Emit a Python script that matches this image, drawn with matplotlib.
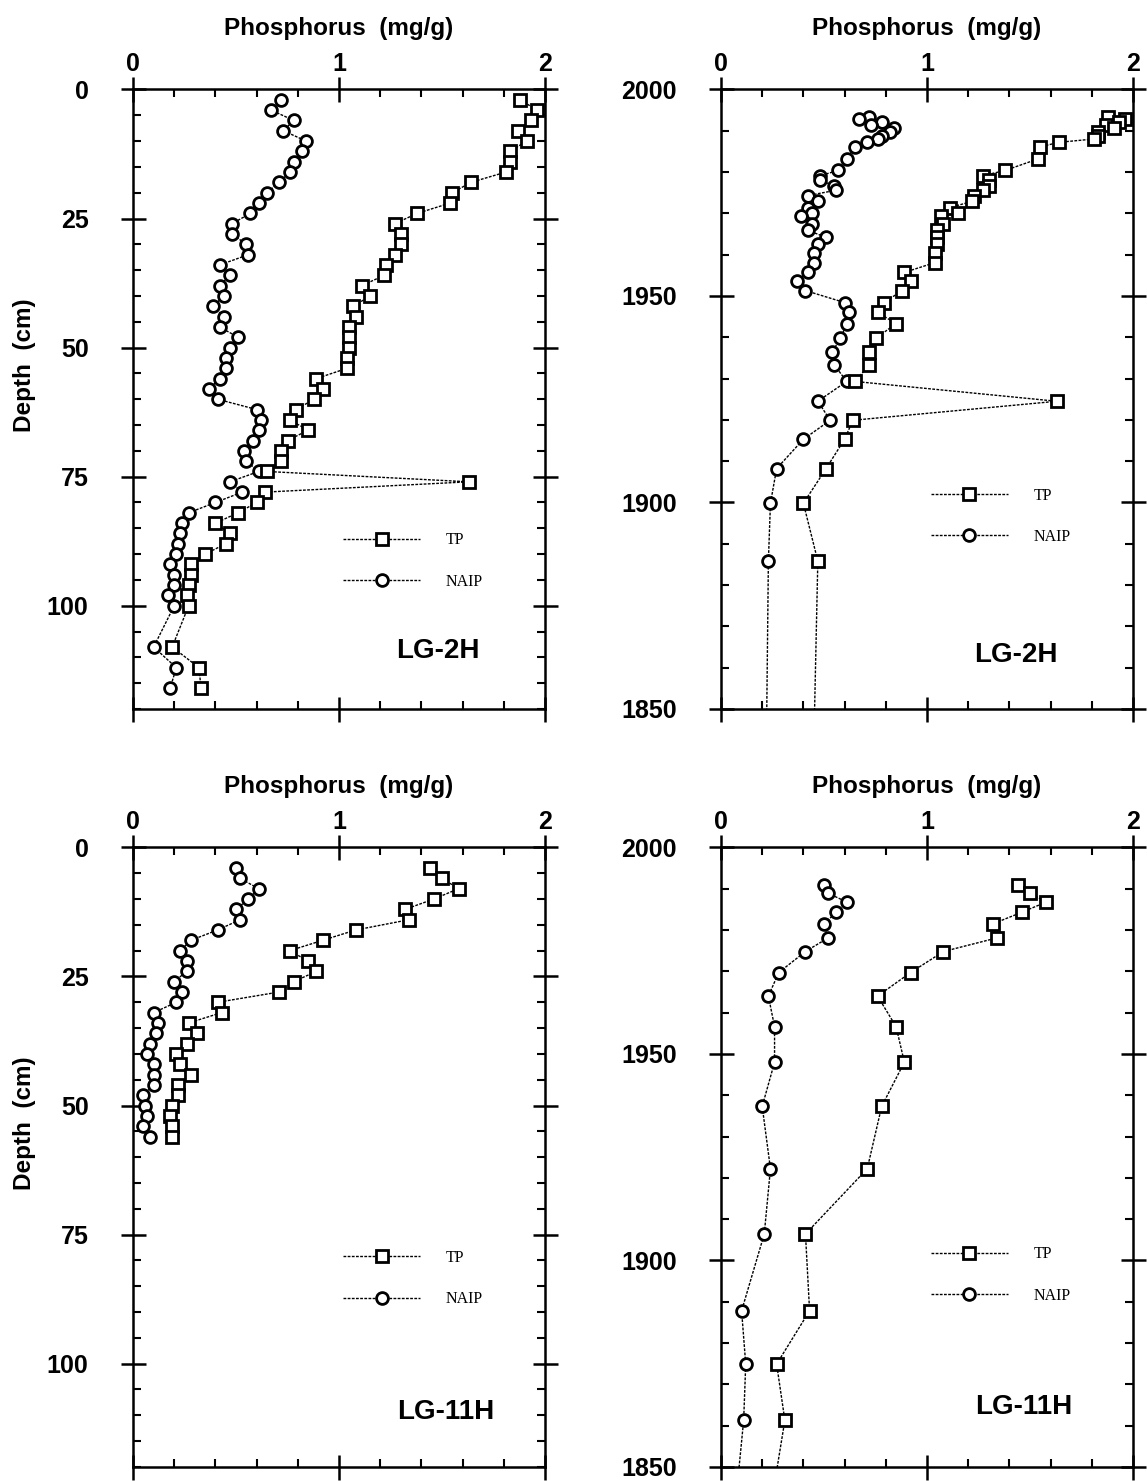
import matplotlib.pyplot as plt
from matplotlib.ticker import MultipleLocator

# LG-2H, depth profile (cm)
depth_2h = [2, 4, 6, 8, 10, 12, 14, 16, 18, 20, 22, 24, 26, 28, 30, 32, 34, 36, 38, 40,
            42, 44, 46, 48, 50, 52, 54, 56, 58, 60, 62, 64, 66, 68, 70, 72, 74, 76, 78, 80,
            82, 84, 86, 88, 90, 92, 94, 96, 98, 100, 108, 112, 116]
tp_2h = [1.88, 1.96, 1.93, 1.87, 1.91, 1.83, 1.83, 1.81, 1.64, 1.55, 1.54, 1.38, 1.27, 1.30,
         1.30, 1.27, 1.23, 1.22, 1.11, 1.15, 1.07, 1.08, 1.05, 1.05, 1.05, 1.04, 1.04, 0.89,
         0.92, 0.88, 0.79, 0.76, 0.85, 0.75, 0.72, 0.72, 0.65, 1.63, 0.64, 0.60, 0.51, 0.40,
         0.47, 0.45, 0.35, 0.28, 0.28, 0.27, 0.26, 0.27, 0.19, 0.32, 0.33]
naip_2h = [0.72, 0.67, 0.78, 0.73, 0.84, 0.82, 0.78, 0.76, 0.71, 0.65, 0.61, 0.57, 0.48, 0.48,
           0.55, 0.56, 0.42, 0.47, 0.42, 0.44, 0.39, 0.44, 0.42, 0.51, 0.47, 0.45, 0.45, 0.42,
           0.37, 0.41, 0.60, 0.62, 0.61, 0.58, 0.54, 0.55, 0.61, 0.47, 0.53, 0.40, 0.27, 0.24,
           0.23, 0.22, 0.21, 0.18, 0.20, 0.20, 0.17, 0.20, 0.10, 0.21, 0.18]
# dates of the upper 44 samples (2-88 cm)
year_2h = [1993.4, 1992.9, 1992.1, 1991.3, 1990.6, 1989.6, 1988.8, 1988.0, 1987.2, 1986.1,
           1983.2, 1980.4, 1979.1, 1978.0, 1976.7, 1975.6, 1974.3, 1972.9, 1971.4, 1970.0,
           1969.4, 1967.5, 1965.9, 1964.2, 1962.6, 1960.4, 1958.1, 1955.7, 1953.5, 1951.3,
           1948.4, 1946.0, 1943.3, 1939.7, 1936.5, 1933.3, 1929.3, 1924.5, 1919.9, 1915.3,
           1908.2, 1899.8, 1885.8, 1840.0]

# LG-11H
depth_11h = [4, 6, 8, 10, 12, 14, 16, 18, 20, 22, 24, 26, 28, 30, 32, 34, 36, 38, 40, 42,
             44, 46, 48, 50, 52, 54, 56]
tp_11h = [1.44, 1.50, 1.58, 1.46, 1.32, 1.34, 1.08, 0.92, 0.76, 0.85, 0.89, 0.78, 0.71, 0.41,
          0.43, 0.27, 0.31, 0.26, 0.21, 0.23, 0.28, 0.22, 0.22, 0.19, 0.18, 0.19, 0.19]
naip_11h = [0.50, 0.52, 0.61, 0.56, 0.50, 0.52, 0.41, 0.28, 0.23, 0.26, 0.26, 0.20, 0.24, 0.21,
            0.10, 0.12, 0.11, 0.08, 0.07, 0.10, 0.10, 0.10, 0.05, 0.06, 0.07, 0.05, 0.08]
year_11h = [1990.9, 1988.9, 1986.8, 1984.3, 1981.5, 1978.1, 1974.8, 1969.7, 1964.0, 1956.6,
            1948.0, 1937.3, 1922.2, 1906.4, 1887.8, 1874.9, 1861.3, 1846.0]

SANS = 'Liberation Sans'
SERIF = 'Liberation Serif'

fig = plt.figure(figsize=(11.47, 14.81), dpi=100)

left_x, right_x, w = 0.1160, 0.6286, 0.3592
top_y, bot_y, h = 0.5213, 0.0095, 0.4183

ax_tl = fig.add_axes([left_x, top_y, w, h])
ax_tr = fig.add_axes([right_x, top_y, w, h])
ax_bl = fig.add_axes([left_x, bot_y, w, h])
ax_br = fig.add_axes([right_x, bot_y, w, h])


def draw(ax, y, tp, naip, name, leg_y, lab_x, lab_y):
    line_kw = dict(color='black', lw=1.0, ls=(0, (2, 1)), markersize=8.5,
                   markeredgewidth=2.0, markerfacecolor='white', markeredgecolor='black')
    ax.plot(naip[:len(y)], y, marker='o', label='NAIP', **line_kw)
    ax.plot(tp[:len(y)], y, marker='s', label='TP', **line_kw)
    ax.set_xlim(0, 2)
    ax.xaxis.set_major_locator(MultipleLocator(1))
    ax.xaxis.set_minor_locator(MultipleLocator(0.2))
    ax.tick_params(axis='x', which='both', top=True, bottom=True,
                   labeltop=True, labelbottom=False)
    ax.tick_params(axis='y', which='both', left=True, right=True)
    ax.tick_params(which='major', direction='inout', length=18, width=1.8)
    ax.tick_params(which='minor', direction='in', length=6, width=1.5)
    ax.tick_params(axis='x', which='major', pad=1)
    ax.tick_params(axis='y', which='major', pad=23)
    for s in ax.spines.values():
        s.set_linewidth(1.8)
    ax.xaxis.set_label_position('top')
    ax.set_xlabel('Phosphorus  (mg/g)', fontfamily=SANS, fontweight='bold',
                  fontsize=17.5, labelpad=12)
    h_, l_ = ax.get_legend_handles_labels()
    ax.legend(h_[::-1], l_[::-1], loc='center left', bbox_to_anchor=(0.51, leg_y),
              frameon=False, prop={'family': SERIF, 'size': 11.5}, handlelength=4.8,
              handletextpad=1.6, labelspacing=1.6, borderpad=0, borderaxespad=0,
              numpoints=1)
    ax.text(lab_x, lab_y, name, transform=ax.transAxes, ha='center', va='center',
            fontfamily=SANS, fontweight='bold', fontsize=20)


draw(ax_tl, depth_2h, tp_2h, naip_2h, 'LG-2H', 0.239, 0.74, 0.093)
draw(ax_tr, year_2h, tp_2h, naip_2h, 'LG-2H', 0.311, 0.715, 0.087)
draw(ax_bl, depth_11h, tp_11h, naip_11h, 'LG-11H', 0.304, 0.76, 0.089)
draw(ax_br, year_11h, tp_11h, naip_11h, 'LG-11H', 0.310, 0.735, 0.097)

for ax in (ax_tl, ax_bl):
    ax.set_ylim(120, 0)
    ax.yaxis.set_major_locator(MultipleLocator(25))
    ax.yaxis.set_minor_locator(MultipleLocator(5))
    ax.set_ylabel('Depth  (cm)', fontfamily=SANS, fontweight='bold', fontsize=17.5)
    ax.yaxis.set_label_coords(-0.235, 0.555)

for ax in (ax_tr, ax_br):
    ax.set_ylim(1850, 2000)
    ax.yaxis.set_major_locator(MultipleLocator(50))
    ax.yaxis.set_minor_locator(MultipleLocator(10))

for ax in (ax_tl, ax_tr, ax_bl, ax_br):
    for t in ax.get_xticklabels() + ax.get_yticklabels():
        t.set_fontfamily(SANS)
        t.set_fontweight('bold')
        t.set_fontsize(18)

fig.savefig('out.png', dpi=100)
